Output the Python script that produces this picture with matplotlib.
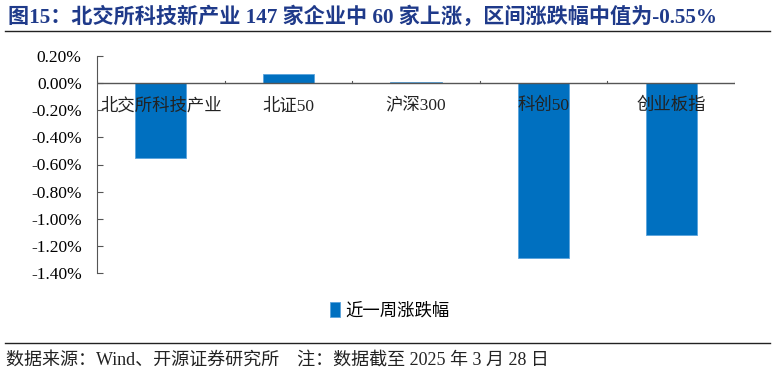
import matplotlib.pyplot as plt
import numpy as np

plt.rcParams['font.family'] = ['Liberation Serif', 'Noto Sans CJK SC']

categories = ['北交所科技产业', '北证50', '沪深300', '科创50', '创业板指']
weekly_change = [-0.55, 0.066, 0.01, -1.29, -1.12]
series_name = '近一周涨跌幅'
title = '图15：北交所科技新产业 147 家企业中 60 家上涨，区间涨跌幅中值为-0.55%'
footer = '数据来源：Wind、开源证券研究所    注：数据截至 2025 年 3 月 28 日'

fig = plt.figure(figsize=(7.74, 3.74), dpi=100)
W, H = 774, 374
# axes: x 97..735, y 56..273 (pixels)
ax = fig.add_axes([97 / W, 1 - 273 / H, (735 - 97) / W, (273 - 56) / H])

x = np.arange(len(categories))
ax.bar(x, weekly_change, width=0.4, color='#0070C0', edgecolor='#5BA3DC',
       linewidth=0.6, label=series_name, zorder=2)

ax.set_xlim(-0.5, len(categories) - 0.5)
ax.set_ylim(-1.4, 0.2)
yt = np.round(np.arange(-1.4, 0.21, 0.2), 2)
ax.set_yticks(yt)
ax.set_yticklabels([f'{v + 0.0:.2f}%' for v in yt], fontsize=12.5)
ax.tick_params(axis='y', length=4, width=0.8, color='#555555', direction='in', pad=11)

# category axis at zero
ax.axhline(0, color='#555555', linewidth=1, zorder=3)
for b in np.arange(-0.5, len(categories), 1.0):
    ax.plot([b, b], [0, 0.012], color='#555555', linewidth=0.8, zorder=3)
ax.set_xticks([])
for i, c in enumerate(categories):
    ax.text(i, -0.17, c, ha='center', va='center', fontsize=12.5, color='#222222', zorder=4)

for s in ['top', 'right', 'bottom']:
    ax.spines[s].set_visible(False)
ax.spines['left'].set_color('#555555')
ax.spines['left'].set_linewidth(0.8)

leg = fig.legend(loc='center', bbox_to_anchor=(390 / W, 1 - 311 / H), frameon=False,
                 fontsize=12.5, handlelength=0.6, handleheight=0.9, handletextpad=0.3)

fig.text(8 / W, 1 - 17 / H, title, fontsize=15.2, fontweight='bold', color='#1F3A8A',
         ha='left', va='center')
fig.add_artist(plt.Line2D([5 / W, 770 / W], [1 - 31 / H, 1 - 31 / H], color='#222222', linewidth=1))
fig.add_artist(plt.Line2D([5 / W, 770 / W], [1 - 343 / H, 1 - 343 / H], color='#222222', linewidth=1))
fig.text(6 / W, 1 - 360 / H, footer, fontsize=13, color='#222222', ha='left', va='center')

fig.savefig('out.png', dpi=100)
